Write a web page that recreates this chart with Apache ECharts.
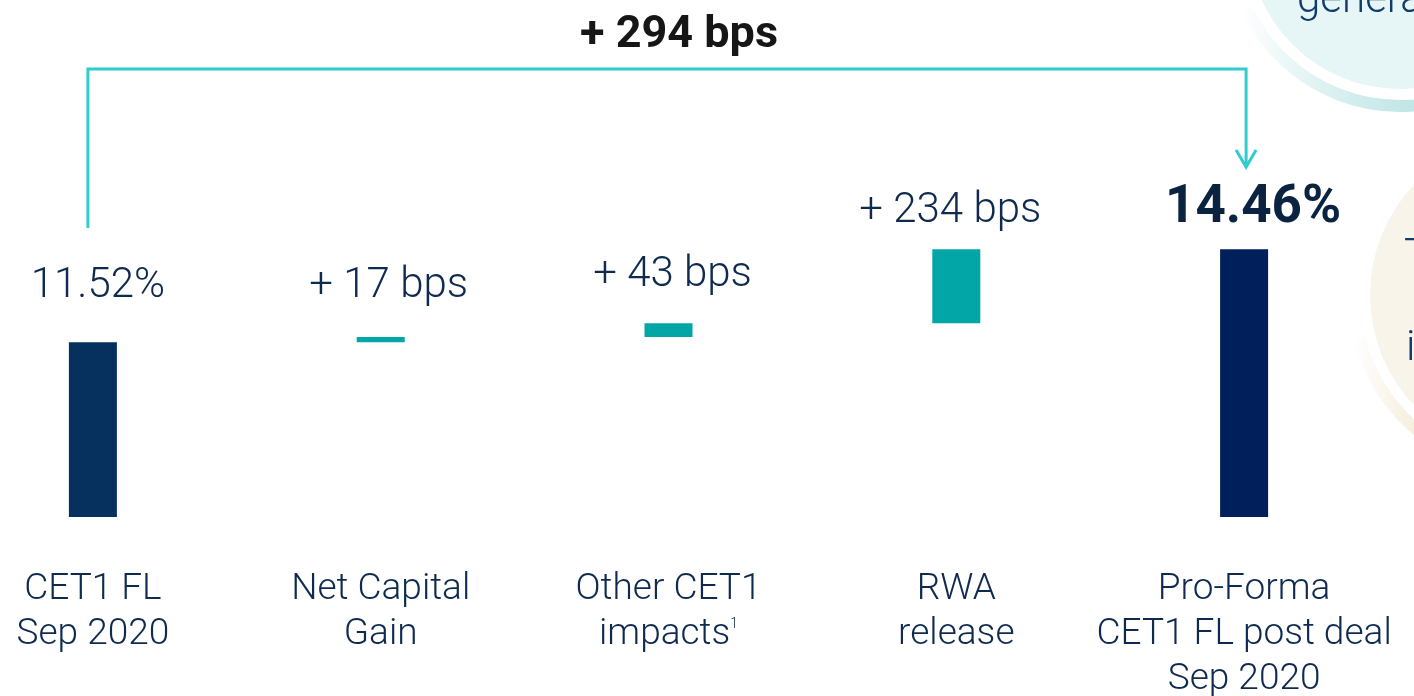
<!DOCTYPE html>
<html>
<head>
<meta charset="utf-8">
<script src="https://cdn.jsdelivr.net/npm/echarts@6/dist/echarts.min.js"></script>
<style>
html,body{margin:0;padding:0;background:#fff}
#main{width:1414px;height:696px}
</style>
</head>
<body>
<div id="main"></div>
<script>
// data
var categories=['CET1 FL\nSep 2020','Net Capital\nGain','Other CET1\nimpacts{sup|1}','RWA\nrelease','Pro-Forma\nCET1 FL post deal\nSep 2020'];
var startRatio=11.52;
var deltaBps=[17,43,234];
var endRatio=14.46;

var navy='#0e2a4f';
var teal='#02a6a6';
var lineTeal='#30cdce';

// build waterfall stacks
var base=[0],delta=['-'],totals=[startRatio];
var run=startRatio;
for(var i=0;i<deltaBps.length;i++){
    base.push(+run.toFixed(2));
    delta.push(deltaBps[i]/100);
    totals.push('-');
    run+=deltaBps[i]/100;
}
base.push(0);delta.push('-');totals.push(endRatio);
var deltaDist=[0,29,27,17,0];
var deltaShift=[0,8,4,-6,0];
var totalBps=deltaBps.reduce(function(a,b){return a+b},0);

var chart=echarts.init(document.getElementById('main'));
var option={
    animation:false,
    grid:{left:-51,right:26,top:74,bottom:179,outerBoundsMode:'none',containLabel:false},
    xAxis:{
        type:'category',
        data:categories,
        axisLine:{show:false},
        axisTick:{show:false},
        axisLabel:{
            interval:0,
            margin:50,
            fontFamily:'Roboto',
            fontWeight:300,
            fontSize:37,
            lineHeight:45,
            color:navy,
            rich:{
                sup:{fontFamily:'Roboto',fontWeight:300,fontSize:14,color:navy,padding:[0,0,20,0]}
            }
        }
    },
    yAxis:{
        type:'value',
        min:6,
        max:20,
        show:false,
        splitLine:{show:false}
    },
    series:[
        {
            type:'bar',
            stack:'w',
            barWidth:48,
            clip:true,
            itemStyle:{color:'transparent'},
            data:base,
            silent:true
        },
        {
            type:'bar',
            stack:'w',
            barWidth:48,
            clip:true,
            itemStyle:{color:teal},
            data:delta.map(function(v,i){
                if(v==='-') return '-';
                return {value:v,label:{distance:deltaDist[i],offset:[deltaShift[i],0]}};
            }),
            label:{
                show:true,
                position:'top',
                fontFamily:'Roboto',
                fontWeight:300,
                fontSize:42,
                color:navy,
                formatter:function(p){return '+ '+Math.round(p.value*100)+' bps'}
            }
        },
        {
            type:'bar',
            stack:'w',
            barWidth:48,
            clip:true,
            data:[
                {value:totals[0],itemStyle:{color:'#06315f'},label:{distance:35,offset:[5,0]}},
                '-','-','-',
                {value:totals[4],itemStyle:{color:'#001f5b'},label:{distance:14,offset:[9,0],fontWeight:700,fontSize:53,color:'#0a2340'}}
            ],
            label:{
                show:true,
                position:'top',
                fontFamily:'Roboto',
                fontWeight:300,
                fontSize:42,
                color:navy,
                formatter:function(p){return p.value.toFixed(2)+'%'}
            }
        }
    ]
};
chart.setOption(option);

// bracket + decorations
var x0=chart.convertToPixel({xAxisIndex:0},0)-5;
var x1=chart.convertToPixel({xAxisIndex:0},4)+2;
chart.setOption({
    graphic:[
        {type:'circle',z:-10,shape:{cx:1400,cy:-63,r:152},style:{fill:'#e6f5f6'}},
        {type:'arc',z:-10,shape:{cx:1400,cy:-63,r:169,startAngle:Math.PI*0.12,endAngle:Math.PI*0.86,clockwise:true},
            style:{fill:null,lineWidth:12,stroke:{type:'linear',x:0,y:0,x2:1,y2:0,colorStops:[{offset:0,color:'rgba(185,226,228,0)'},{offset:0.5,color:'#c3e7e8'},{offset:1,color:'#b5e0e1'}]}}},
        {type:'text',z:-5,style:{text:'generated',x:1297,y:22,verticalAlign:'bottom',font:'300 42px Roboto',fill:'#123a6b'}},
        {type:'circle',z:-10,shape:{cx:1530,cy:295,r:160},style:{fill:'#f8f4ea'}},
        {type:'arc',z:-10,shape:{cx:1530,cy:295,r:176,startAngle:Math.PI*0.55,endAngle:Math.PI*0.92,clockwise:true},
            style:{fill:null,lineWidth:12,stroke:{type:'linear',x:0,y:0,x2:1,y2:0,colorStops:[{offset:0,color:'rgba(232,214,170,0)'},{offset:1,color:'#e9d7ab'}]}}},
        {type:'text',z:-5,style:{text:'T',x:1404,y:236,font:'300 42px Roboto',fill:'#123a6b'}},
        {type:'text',z:-5,style:{text:'i',x:1406,y:328,font:'300 42px Roboto',fill:'#123a6b'}},
        {type:'polyline',shape:{points:[[x0,228],[x0,69],[x1,69],[x1,166]]},style:{stroke:lineTeal,lineWidth:3,fill:null}},
        {type:'polyline',shape:{points:[[x1-10,150],[x1,167],[x1+10,150]]},style:{stroke:lineTeal,lineWidth:3,fill:null}},
        {type:'text',style:{text:'+ '+totalBps+' bps',x:679,y:36,align:'center',verticalAlign:'middle',font:'bold 45px Roboto',fill:'#161616'}}
    ]
});
</script>
</body>
</html>
